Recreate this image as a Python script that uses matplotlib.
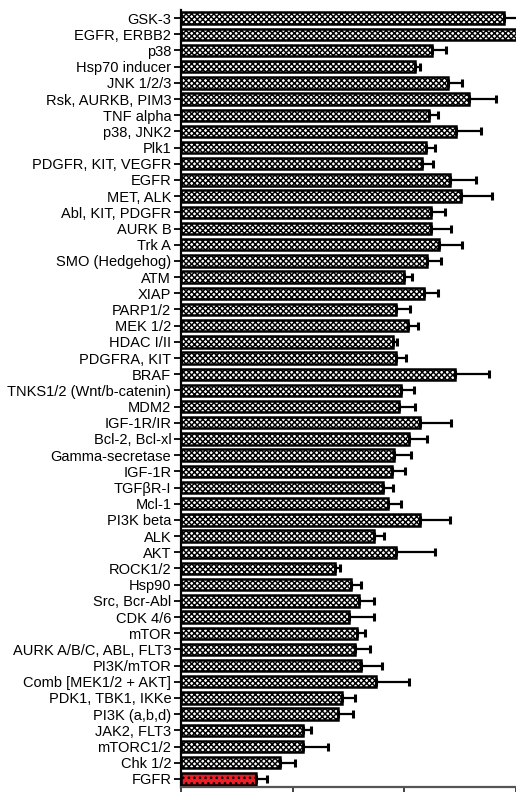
import matplotlib
matplotlib.use("Agg")
import matplotlib.pyplot as plt
import numpy as np

plt.rcParams['font.family'] = ['Liberation Sans', 'DejaVu Sans']
plt.rcParams['hatch.linewidth'] = 1.05

categories = [
    "GSK-3", "EGFR, ERBB2", "p38", "Hsp70 inducer", "JNK 1/2/3", "Rsk, AURKB, PIM3",
    "TNF alpha", "p38, JNK2", "Plk1", "PDGFR, KIT, VEGFR", "EGFR", "MET, ALK",
    "Abl, KIT, PDGFR", "AURK B", "Trk A", "SMO (Hedgehog)", "ATM", "XIAP",
    "PARP1/2", "MEK 1/2", "HDAC I/II", "PDGFRA, KIT", "BRAF",
    "TNKS1/2 (Wnt/b-catenin)", "MDM2", "IGF-1R/IR", "Bcl-2, Bcl-xl",
    "Gamma-secretase", "IGF-1R", "TGFβR-I", "Mcl-1", "PI3K beta", "ALK", "AKT",
    "ROCK1/2", "Hsp90", "Src, Bcr-Abl", "CDK 4/6", "mTOR", "AURK A/B/C, ABL, FLT3",
    "PI3K/mTOR", "Comb [MEK1/2 + AKT]", "PDK1, TBK1, IKKe", "PI3K (a,b,d)",
    "JAK2, FLT3", "mTORC1/2", "Chk 1/2", "FGFR",
]

values = [
    144.6, 160.0, 112.5, 104.9, 119.6, 129.0,
    111.2, 123.2, 109.8, 108.0, 120.5, 125.4,
    112.0, 112.0, 115.6, 110.3, 100.0, 108.9,
    96.4, 101.8, 95.1, 96.4, 122.8,
    98.7, 97.8, 107.1, 102.2,
    95.5, 94.6, 90.6, 92.9, 107.1, 86.2, 96.4,
    68.8, 76.3, 79.5, 75.0, 78.6, 78.1,
    80.8, 87.1, 71.9, 70.5,
    54.5, 54.5, 44.2, 33.5,
]

errors = [
    11.0, 10.0, 6.3, 2.2, 6.3, 12.0,
    4.0, 11.2, 4.0, 4.9, 11.6, 13.8,
    6.3, 8.9, 10.3, 6.3, 3.6, 6.3,
    6.3, 4.5, 1.8, 4.5, 15.2,
    5.8, 7.1, 13.8, 8.0,
    7.6, 5.8, 4.5, 5.8, 13.4, 4.9, 17.4,
    2.2, 4.5, 7.1, 11.2, 4.0, 6.7,
    9.4, 15.2, 5.8, 6.7,
    3.6, 11.2, 6.7, 4.9,
]

highlight = "FGFR"
xticks = [0, 50, 100, 150]

fig = plt.figure(figsize=(5.16, 7.92), dpi=100)
ax = fig.add_axes([181/516, 5/792, (516-181)/516, 777/792])

y = np.arange(len(categories))
for i, (cat, v, e) in enumerate(zip(categories, values, errors)):
    if cat == highlight:
        fc, hatch = '#ee1c25', '...'
    else:
        fc, hatch = 'white', 'xxxxxx'
    ax.barh(i, v, height=0.7, color=fc, edgecolor='black', linewidth=1.8,
            hatch=hatch, zorder=2)
    ax.errorbar(v, i, xerr=[[0], [e]], fmt='none', ecolor='black',
                elinewidth=1.6, capsize=3, capthick=2.2, zorder=3)

ax.set_yticks(y)
ax.set_yticklabels(categories, fontsize=10.5)
ax.set_ylim(len(categories) - 0.5, -0.5)
ax.set_xlim(0, 150)
ax.set_xticks(xticks)
ax.tick_params(axis='x', labelbottom=False, length=5, width=1.3, color='#333333')
ax.tick_params(axis='y', length=5, width=1.3, pad=2)

for s in ['top', 'right']:
    ax.spines[s].set_visible(False)
ax.spines['left'].set_linewidth(1.6)
ax.spines['bottom'].set_linewidth(1.6)
ax.spines['bottom'].set_color('#555555')

fig.savefig("out.png", dpi=100)
